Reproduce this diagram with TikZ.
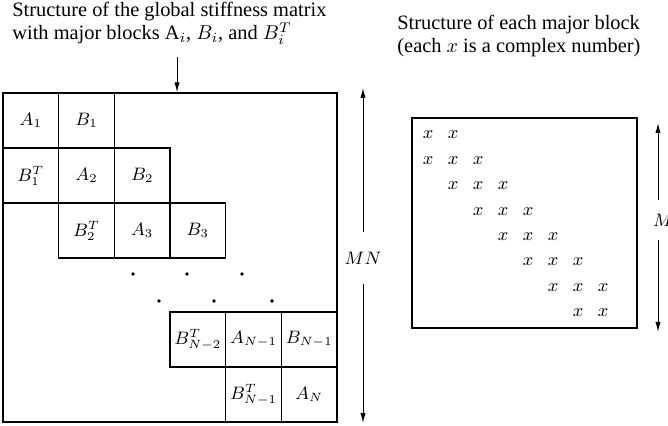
\documentclass[tikz,border=0pt]{standalone}
\usepackage{fontspec}
\setmainfont{Liberation Serif}
\usetikzlibrary{arrows.meta}

\begin{document}
\begin{tikzpicture}[x=0.5pt,y=-0.5pt,font=\fontsize{8.8}{11.5}\selectfont,
  ttl/.style={anchor=north west,align=left,inner sep=0pt,font=\fontsize{10.2}{11.5}\selectfont},
  blk/.style={draw,line width=0.7pt,minimum width=27.8pt,minimum height=27.5pt,inner sep=0pt},
  dimarr/.style={-{Latex[length=5pt,width=2.6pt]},line width=0.5pt}]
 \useasboundingbox (0,0) rectangle (668,426);
 % titles
 \node[ttl] (ttlglob) at (12,2)
   {Structure of the global stiffness matrix\\with major blocks A$_i$, $B_i$, and $B_i^T$};
 \node[ttl] (ttlblk) at (397,15)
   {Structure of each major block\\(each $x$ is a complex number)};
 % global matrix
 \node[draw,line width=0.7pt,minimum width=167pt,minimum height=164.5pt,inner sep=0pt] (glob) at (170,257.5) {};
 \coordinate (arrtop) at (177,57);
 \draw[dimarr] (arrtop) -- (arrtop |- glob.north);
 \node[blk] (a1) at (30.8,120.5) {$A_1$};
 \node[blk] (b1) at (86.5,120.5) {$B_1$};
 \node[blk] (bt1) at (30.8,175.5) {$B_1^T$};
 \node[blk] (a2) at (86.5,175.5) {$A_2$};
 \node[blk] (b2) at (142.2,175.5) {$B_2$};
 \node[blk] (bt2) at (86.5,230.5) {$B_2^T$};
 \node[blk] (a3) at (142.2,230.5) {$A_3$};
 \node[blk] (b3) at (197.8,230.5) {$B_3$};
 \node[blk] (btn2) at (197.8,339.5) {$B_{N-2}^T$};
 \node[blk] (an1) at (253.5,339.5) {$A_{N-1}$};
 \node[blk] (bn1) at (309.2,339.5) {$B_{N-1}$};
 \node[blk] (btn1) at (253.5,394.5) {$B_{N-1}^T$};
 \node[blk] (an) at (309.2,394.5) {$A_N$};
 % dots
 \fill (133,274) circle (1.8) (187,274) circle (1.8) (242,274) circle (1.8);
 \fill (159,301) circle (1.8) (214,301) circle (1.8) (272,301) circle (1.8);
 % size MN
 \node[minimum height=26pt,inner sep=0pt] (mn) at (363,258) {$MN$};
 \coordinate (mntop) at (363,88);
 \coordinate (mnbot) at (363,423);
 \draw[dimarr] (mn) -- (mntop);
 \draw[dimarr] (mn) -- (mnbot);
 % one block
 \node[draw,line width=0.7pt,minimum width=112.5pt,minimum height=105pt,inner sep=0pt] (blk) at (524.5,223) {};
 \foreach \i in {0,...,7}
  \foreach \j in {0,...,7} {
   \pgfmathtruncatemacro\d{abs(\i-\j)}
   \ifnum\d<2 \node (x\i\j) at (428+25*\j,135+25.4*\i) {$x$}; \fi
  }
 % size M
 \node[minimum height=20pt,inner sep=0pt] (msz) at (663,220) {$M$};
 \coordinate (mtop) at (658,123);
 \coordinate (mbot) at (658,332);
 \draw[dimarr] (mtop |- msz.north) -- (mtop);
 \draw[dimarr] (mbot |- msz.south) -- (mbot);
\end{tikzpicture}
\end{document}
